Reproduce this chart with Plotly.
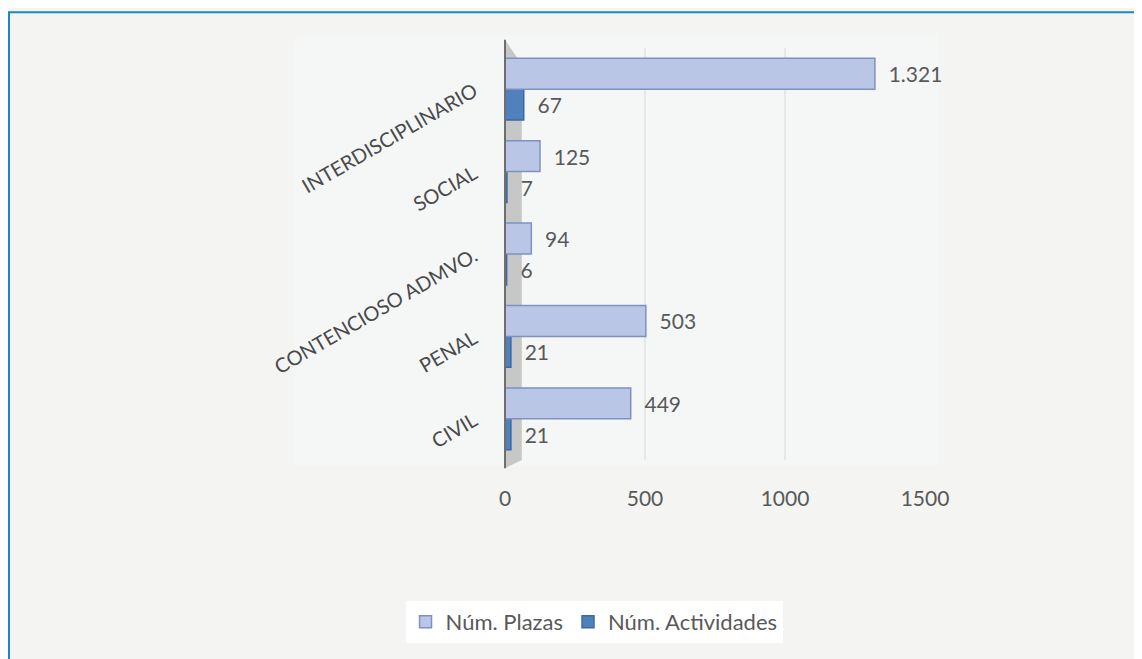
import plotly.graph_objects as go

categorias = ["CIVIL", "PENAL", "CONTENCIOSO ADMVO.", "SOCIAL", "INTERDISCIPLINARIO"]
plazas = [449, 503, 94, 125, 1321]
actividades = [21, 21, 6, 7, 67]
etiquetas_plazas = ["449", "503", "94", "125", "1.321"]
etiquetas_actividades = ["21", "21", "6", "7", "67"]
ticks_x = [0, 500, 1000, 1500]

gris_texto = "#595959"

fig = go.Figure()
# Actividades primero para que quede debajo de Plazas dentro de cada grupo
fig.add_trace(go.Bar(
    y=categorias, x=actividades, orientation="h", name="Núm. Actividades",
    text=etiquetas_actividades, texttemplate="  %{text}", textposition="outside",
    marker=dict(color="#4f81bd", line=dict(color="#3c6aa3", width=1.5)),
    textfont=dict(size=21, color=gris_texto), cliponaxis=False, legendrank=2,
))
fig.add_trace(go.Bar(
    y=categorias, x=plazas, orientation="h", name="Núm. Plazas",
    text=etiquetas_plazas, texttemplate="  %{text}", textposition="outside",
    marker=dict(color="#b9c6e5", line=dict(color="#7f91c4", width=1.5)),
    textfont=dict(size=21, color=gris_texto), cliponaxis=False, legendrank=1,
))

fig.update_layout(
    width=1134, height=651,
    margin=dict(l=497, r=217, t=40, b=199),
    barmode="group", bargap=0.25, bargroupgap=0,
    paper_bgcolor="#f4f4f3", plot_bgcolor="rgba(0,0,0,0)",
    font=dict(family="Lato, Open Sans, sans-serif", color=gris_texto, size=21),
    showlegend=True,
    legend=dict(
        orientation="h", x=0.212, y=-0.393, xanchor="center", yanchor="middle",
        bgcolor="white", font=dict(size=22, color=gris_texto),
        borderwidth=0, itemwidth=30,
    ),
    shapes=[
        # zona clara del area de trazado
        dict(type="rect", xref="paper", yref="paper", x0=-0.5, x1=1.03, y0=-0.015, y1=1.03,
             fillcolor="#f5f7f7", line=dict(width=0), layer="below"),
        # pared gris
        dict(type="path", xref="paper", yref="paper",
             path="M 0 1.02 L 0.04 0.96 L 0.04 -0.0 L 0 -0.02 Z",
             fillcolor="rgba(160,160,160,0.55)", line=dict(width=0), layer="below"),
        dict(type="line", xref="paper", yref="paper", x0=0, x1=0, y0=-0.02, y1=1.02,
             line=dict(color="#6f6f6f", width=2)),
        # marco azul
        dict(type="rect", xref="paper", yref="paper", x0=-1.181, x1=1.7, y0=-0.6, y1=1.087,
             line=dict(color="#1a86c8", width=2), fillcolor="rgba(0,0,0,0)"),
    ],
)
fig.update_xaxes(
    range=[0, 1500], tickvals=ticks_x, showgrid=True, gridcolor="#e6e8e8", gridwidth=2,
    zeroline=False, showline=False, ticks="", ticklabelstandoff=24,
    tickfont=dict(size=21, color=gris_texto),
)
fig.update_yaxes(
    categoryorder="array", categoryarray=categorias, tickangle=-30,
    showgrid=False, zeroline=False, showline=False, ticks="",
    ticklabelstandoff=30, tickfont=dict(size=20, color="#4a4a4a"),
)

fig.write_html("out.html")
